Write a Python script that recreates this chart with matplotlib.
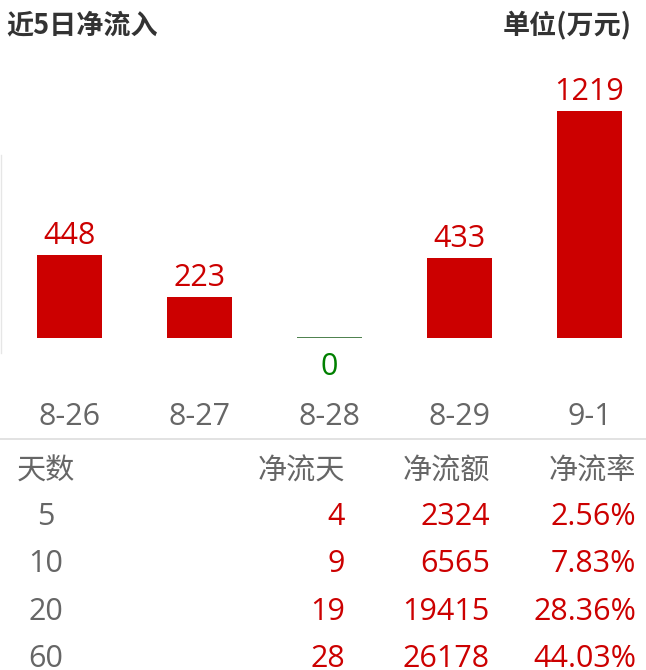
import matplotlib
matplotlib.use("Agg")
import matplotlib.pyplot as plt
import matplotlib.transforms as mtransforms

plt.rcParams['font.family'] = ['Open Sans', 'Noto Sans CJK SC', 'DejaVu Sans']

# ---- data ----
dates = ["8-26", "8-27", "8-28", "8-29", "9-1"]
net_inflow = [448, 223, 0, 433, 1219]

table_header = ["天数", "净流天", "净流额", "净流率"]
table_days = ["5", "10", "20", "60"]
table_net_days = ["4", "9", "19", "28"]
table_net_amount = ["2324", "6565", "19415", "26178"]
table_net_rate = ["2.56%", "7.83%", "28.36%", "44.03%"]

RED = "#cc0000"
GREEN = "#008000"
GRAY = "#666666"
DARK = "#333333"
CJK = ['Noto Sans CJK SC', 'DejaVu Sans']
NUM_FS = 22
CJK_FS = 21

W, H = 646, 670
fig = plt.figure(figsize=(W / 100, H / 100), dpi=100)

def fy(py):
    return 1 - py / H

def fx(px):
    return px / W

PT = 0.72  # points per pixel at 100 dpi

# chart axes: baseline at pixel row 338, top at row 60
base_px, top_px = 338, 60
scale = 5.38  # value per pixel
ax = fig.add_axes([0, fy(base_px), 1, (base_px - top_px) / H])
ax.set_ylim(0, (base_px - top_px) * scale)
spacing = 130
ax.set_xlim(-69.5 / spacing, (W - 69.5) / spacing)
ax.axis('off')

x = list(range(len(dates)))
bw = 0.5
ax.bar(x, net_inflow, width=bw, color=RED)
for xi, v in zip(x, net_inflow):
    if v == 0:
        ax.hlines(0, xi - bw / 2, xi + bw / 2, color="#2e6b2e", lw=1.2)
        ax.annotate(str(v), (xi, 0), xytext=(0, -37 * PT), textcoords='offset points',
                    ha='center', va='baseline', color=GREEN, fontsize=NUM_FS,
                    annotation_clip=False)
    else:
        ax.annotate(str(v), (xi, v), xytext=(0, 11 * PT), textcoords='offset points',
                    ha='center', va='baseline', color=RED if v > 0 else GREEN,
                    fontsize=NUM_FS, annotation_clip=False)

trans = mtransforms.blended_transform_factory(ax.transData, fig.transFigure)
for xi, d in zip(x, dates):
    ax.text(xi, fy(425), d, transform=trans, ha='center', va='baseline',
            color=GRAY, fontsize=NUM_FS, clip_on=False)

# title
fig.text(fx(6), fy(33), "近5日净流入", ha='left', va='baseline', color=DARK,
         fontsize=19.5, fontweight='bold', family=CJK)
fig.text(fx(632), fy(33), "单位(万元)", ha='right', va='baseline', color=DARK,
         fontsize=19.5, fontweight='bold', family=CJK)

# faint left line and separator
fig.add_artist(plt.Line2D([fx(1), fx(1)], [fy(155), fy(353)], color="#e6e6e6", lw=1))
fig.add_artist(plt.Line2D([0, 1], [fy(439), fy(439)], color="#dddddd", lw=1.2))

# table
header_base = 480
row_base = [525, 572, 620, 667]
fig.text(fx(17), fy(header_base), table_header[0], ha='left', va='baseline',
         color=GRAY, fontsize=CJK_FS, family=CJK)
col_right = [345, 490, 636]
for cx, h in zip(col_right, table_header[1:]):
    fig.text(fx(cx), fy(header_base), h, ha='right', va='baseline', color=GRAY,
             fontsize=CJK_FS, family=CJK)

for i in range(len(table_days)):
    yy = fy(row_base[i])
    fig.text(fx(46), yy, table_days[i], ha='center', va='baseline', color=GRAY,
             fontsize=NUM_FS)
    for cx, col in zip(col_right, [table_net_days, table_net_amount, table_net_rate]):
        fig.text(fx(cx), yy, col[i], ha='right', va='baseline', color=RED,
                 fontsize=NUM_FS)

fig.savefig("out.png", dpi=100, facecolor='white')
